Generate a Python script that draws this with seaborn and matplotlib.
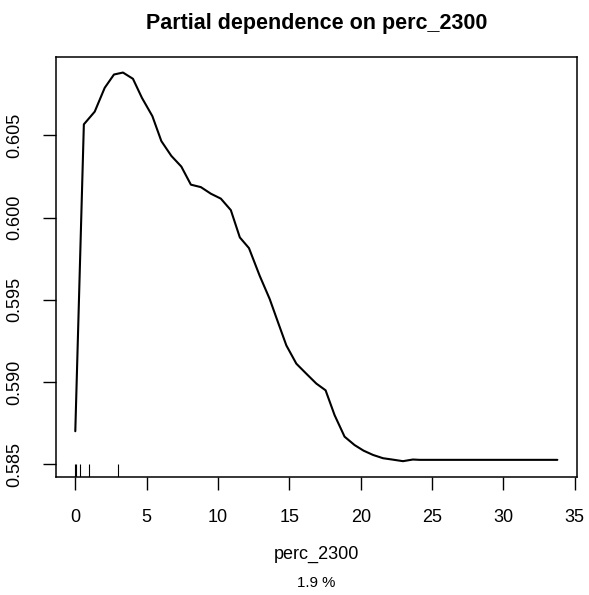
import numpy as np
import matplotlib
matplotlib.use('Agg')
import matplotlib.pyplot as plt
import seaborn as sns

# partial dependence curve
perc_2300 = [0, 0.6, 1.36, 2.06, 2.71, 3.34, 4.04, 4.67, 5.4, 6.03, 6.73, 7.43,
             8.1, 8.8, 9.5, 10.2, 10.9, 11.53, 12.17, 12.92, 13.62, 14.2, 14.79,
             15.49, 16.19, 16.89, 17.54, 18.17, 18.87, 19.57, 20.2, 20.86, 21.56,
             22.2, 22.96, 23.66, 24.13, 33.78]
pd_value = [0.5870, 0.60567, 0.60644, 0.60789, 0.6087, 0.60882, 0.60844, 0.60728,
            0.60617, 0.60465, 0.60375, 0.6031, 0.6020, 0.60185, 0.60145, 0.60115,
            0.60045, 0.59879, 0.59814, 0.59646, 0.59505, 0.59364, 0.59222, 0.59111,
            0.5905, 0.5899, 0.58949, 0.58798, 0.58667, 0.58616, 0.58582, 0.58556,
            0.58536, 0.58528, 0.58518, 0.58528, 0.58526, 0.58526]

# rug of observed values (deciles)
rug_x = [0, 0.05, 0.3, 0.95, 2.99]

x_ticks = [0, 5, 10, 15, 20, 25, 30, 35]
y_ticks = [0.585, 0.590, 0.595, 0.600, 0.605]
y_labels = ['0.585', '0.590', '0.595', '0.600', '0.605']

sns.set_style('ticks')
plt.rcParams['font.family'] = ['Liberation Sans', 'DejaVu Sans']
plt.rcParams['text.color'] = 'black'
plt.rcParams['axes.labelcolor'] = 'black'

fig = plt.figure(figsize=(5.89, 5.95), dpi=100)
ax = fig.add_axes([0.0951, 0.1988, 0.8839, 0.7054])

sns.lineplot(x=perc_2300, y=pd_value, color='black', linewidth=1.5, sort=False, ax=ax)
sns.rugplot(x=rug_x, height=0.03, color='black', linewidth=0.8, ax=ax)

ax.margins(x=0.04, y=0.04)
ax.set_xticks(x_ticks)
ax.set_yticks(y_ticks)
ax.set_yticklabels(y_labels, rotation=90, va='center')
ax.tick_params(direction='out', length=9.5, width=1.0, labelsize=13, pad=14,
               color='black', labelcolor='black')

for s in ax.spines.values():
    s.set_visible(True)
    s.set_linewidth(1.1)
    s.set_color('black')

ax.set_title('Partial dependence on perc_2300', fontsize=15.5, fontweight='bold',
             pad=20, color='black')
ax.set_xlabel('perc_2300', fontsize=13, labelpad=14, color='black')
fig.text(0.5374, 1 - 582.7 / 595, '1.9 %', fontsize=10.8, ha='center', va='center')

fig.savefig('out.png', dpi=100)
